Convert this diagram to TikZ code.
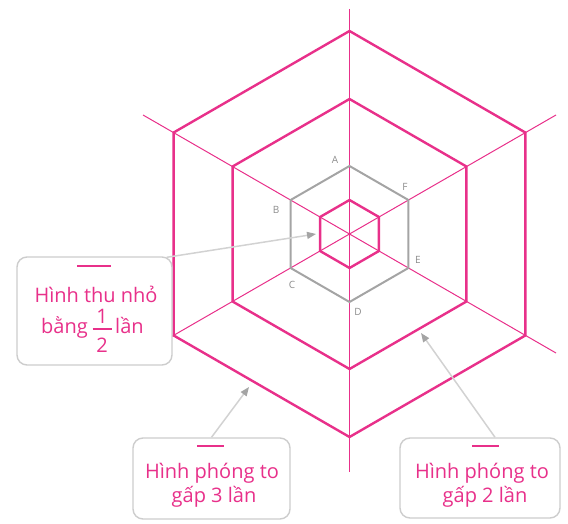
\documentclass[tikz,border=0pt]{standalone}
\usepackage{fontspec}
\setmainfont{Open Sans}
\usetikzlibrary{arrows.meta}
\definecolor{pk}{HTML}{E8308A}
\definecolor{hg}{HTML}{A4A4A4}
\definecolor{bx}{HTML}{CDCDCD}
\definecolor{lg}{HTML}{D2D2D2}
\definecolor{tg}{HTML}{8C8C8C}
\begin{document}
\begin{tikzpicture}[x=1pt,y=-1pt,
  hexline/.style={pk, line width=2.4pt, line join=miter},
  axisline/.style={pk, line width=1pt},
  grayhex/.style={hg, line width=2pt, line join=miter},
  box/.style={draw=bx, line width=1.4pt, rounded corners=10pt, fill=white, inner sep=0pt},
  bar/.style={pk, line width=2pt},
  fracbar/.style={pk, line width=1.4pt},
  txt/.style={text=pk, font=\fontsize{20}{24}\selectfont, inner sep=0pt, anchor=base},
  lbl/.style={text=tg, font=\fontsize{10}{12}\selectfont, inner sep=0pt},
  ptr/.style={lg, line width=1.5pt, -{Triangle[length=9pt,width=7pt,color=hg]}}
]
\useasboundingbox (0,0) rectangle (568,524);
\coordinate (O) at (349.5,234);
% axes
\draw[axisline] (349.5,9) -- (349.5,472);
\draw[axisline] (143,115) -- (556,353);
\draw[axisline] (143,353) -- (556,115);
% hexagons
\draw[hexline, shift={(O)}] (30:203) -- (90:203) -- (150:203) -- (210:203) -- (270:203) -- (330:203) -- cycle;
\draw[hexline, shift={(O)}] (30:135) -- (90:135) -- (150:135) -- (210:135) -- (270:135) -- (330:135) -- cycle;
\draw[grayhex, shift={(O)}] (30:68) -- (90:68) -- (150:68) -- (210:68) -- (270:68) -- (330:68) -- cycle;
\draw[hexline, shift={(O)}] (30:34) -- (90:34) -- (150:34) -- (210:34) -- (270:34) -- (330:34) -- cycle;
% vertex labels
\node[lbl] (lA) at (335,160) {A};
\node[lbl] (lB) at (276,210) {B};
\node[lbl] (lC) at (292,285) {C};
\node[lbl] (lD) at (358,312) {D};
\node[lbl] (lE) at (418,260) {E};
\node[lbl] (lF) at (405,187) {F};
% boxes
\node[box, minimum width=155pt, minimum height=108pt] (b1) at (94.5,311) {};
\node[box, minimum width=157pt, minimum height=81pt] (b2) at (211.5,478.5) {};
\node[box, minimum width=160pt, minimum height=80pt] (b3) at (480,478) {};
% bars
\draw[bar] (77,266) -- (111,266);
\draw[bar] (197,446) -- (224,446);
\draw[bar] (472,446) -- (499,446);
% texts
\node[txt] (t1a) at (96,302) {Hình thu nhỏ};
\node[txt, anchor=base east] (t1b) at (88,333) {bằng};
\node[txt] (t1n) at (102,323) {1};
\node[txt] (t1d) at (102,352) {2};
\draw[fracbar] (92.5,329) -- (111.5,329);
\node[txt, anchor=base west] (t1c) at (115,333) {lần};
\node[txt] (t2a) at (212,478) {Hình phóng to};
\node[txt] (t2b) at (214,502) {gấp 3 lần};
\node[txt] (t3a) at (482,478) {Hình phóng to};
\node[txt] (t3b) at (485,502) {gấp 2 lần};
% pointers
\coordinate (tip1) at (316,234);
\coordinate (tip2) at (249,387);
\coordinate (tip3) at (421,333);
\draw[ptr] ([xshift=-6pt,yshift=-1pt]b1.north east) -- (tip1);
\draw[ptr] (b2.north) -- (tip2);
\draw[ptr] ([xshift=15pt]b3.north) -- (tip3);
\end{tikzpicture}
\end{document}
